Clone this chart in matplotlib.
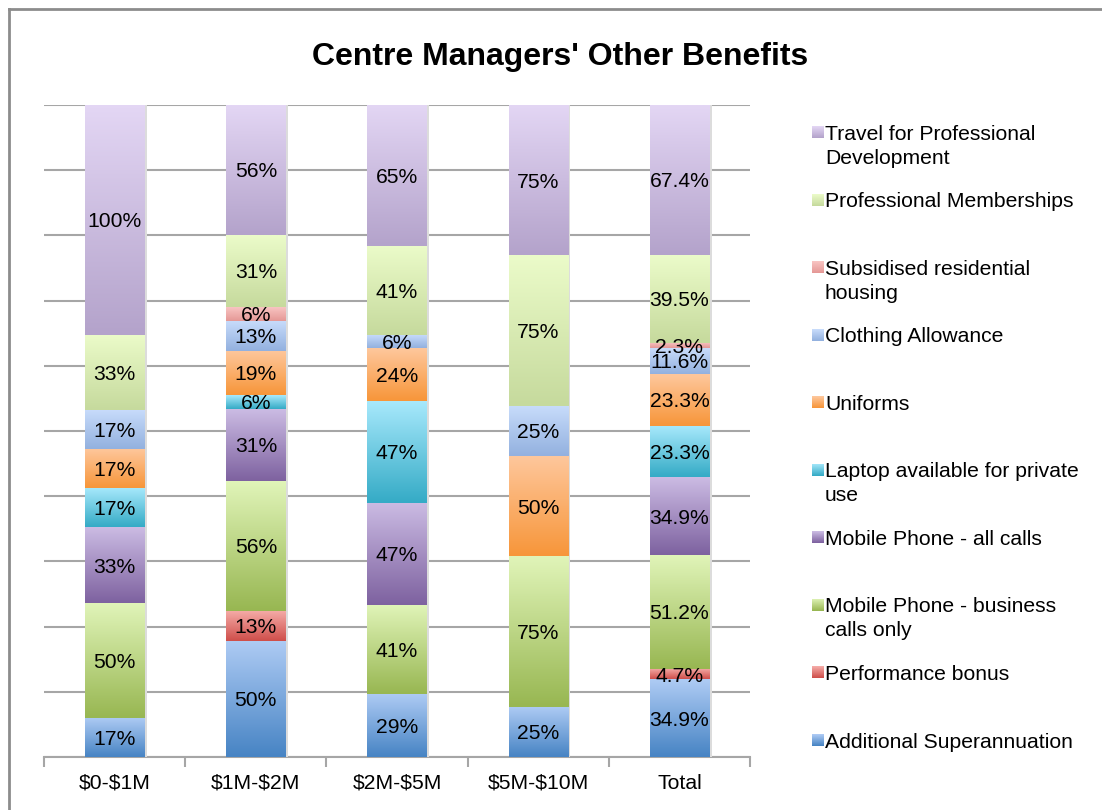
import numpy as np
import matplotlib
matplotlib.use("Agg")
import matplotlib.pyplot as plt
from matplotlib.lines import Line2D
from matplotlib.colors import LinearSegmentedColormap

plt.rcParams['font.family'] = ['Liberation Sans', 'DejaVu Sans']

# ---------------- data ----------------
categories = ["$0-$1M", "$1M-$2M", "$2M-$5M", "$5M-$10M", "Total"]

series_names = [
    "Additional Superannuation",
    "Performance bonus",
    "Mobile Phone - business\ncalls only",
    "Mobile Phone - all calls",
    "Laptop available for private\nuse",
    "Uniforms",
    "Clothing Allowance",
    "Subsidised residential\nhousing",
    "Professional Memberships",
    "Travel for Professional\nDevelopment",
]

additional_super = [17, 50, 29, 25, 34.9]
performance_bonus = [0, 13, 0, 0, 4.7]
mobile_business = [50, 56, 41, 75, 51.2]
mobile_all = [33, 31, 47, 0, 34.9]
laptop = [17, 6, 47, 0, 23.3]
uniforms = [17, 19, 24, 50, 23.3]
clothing = [17, 13, 6, 25, 11.6]
housing = [0, 6, 0, 0, 2.3]
prof_memberships = [33, 31, 41, 75, 39.5]
travel = [100, 56, 65, 75, 67.4]

series_values = [additional_super, performance_bonus, mobile_business, mobile_all,
                 laptop, uniforms, clothing, housing, prof_memberships, travel]

# gradient colours (top, bottom) per series
grad_colors = [
    ("#aecbf4", "#4784c4"),
    ("#f5aca8", "#cf4f4b"),
    ("#e0f4b8", "#98b752"),
    ("#cbbbe3", "#7e62a0"),
    ("#a8e9fc", "#35abc6"),
    ("#fec79c", "#f7963a"),
    ("#c8dcfb", "#93b1df"),
    ("#f8c4c2", "#e59896"),
    ("#ebfbc9", "#c6da9d"),
    ("#e3d6f4", "#b4a3cb"),
]

FS = 15.2

# ---------------- figure ----------------
W, H = 1102, 810
fig = plt.figure(figsize=(W / 100, H / 100), dpi=100)
fig.patch.set_facecolor("white")

ax = fig.add_axes([44 / W, 1 - 757 / H, (750 - 44) / W, (757 - 105) / H])
ax.set_facecolor("white")

vals = np.array(series_values, dtype=float)
totals = vals.sum(axis=0)
pct = vals / totals * 100.0

x = np.arange(len(categories))
bar_w = 0.42
bottom = np.zeros(len(categories))

for i, name in enumerate(series_names):
    top_c, bot_c = grad_colors[i]
    cmap = LinearSegmentedColormap.from_list("g%d" % i, [bot_c, top_c])
    # shadow
    ax.bar(x + 0.018, pct[i], bar_w, bottom=bottom, color="#dcdcdc", zorder=2,
           linewidth=0)
    bars = ax.bar(x, pct[i], bar_w, bottom=bottom, color=top_c, zorder=3,
                  linewidth=0)
    for j, b in enumerate(bars):
        h = pct[i][j]
        if h <= 0:
            continue
        x0 = b.get_x()
        y0 = b.get_y()
        grad = np.linspace(0, 1, 64).reshape(-1, 1)
        ax.imshow(grad, cmap=cmap, origin="lower", aspect="auto",
                  extent=[x0, x0 + b.get_width(), y0, y0 + h], zorder=4,
                  interpolation="bilinear")
        v = series_values[i][j]
        lab = ("%d%%" % v) if float(v).is_integer() else ("%.1f%%" % v)
        ax.text(x[j], y0 + h / 2.0, lab, ha="center", va="center_baseline",
                fontsize=FS, color="black", zorder=6)
    bottom = bottom + pct[i]

ax.set_xlim(-0.5, len(categories) - 0.5)
ax.set_ylim(0, 100)

# grid
ax.set_yticks(np.arange(0, 101, 10))
ax.yaxis.grid(True, color="#a6a6a6", linewidth=1.5, zorder=0)
ax.set_axisbelow(True)
ax.tick_params(axis="y", length=0, labelleft=False)

for s in ["top", "right", "left"]:
    ax.spines[s].set_visible(False)
ax.spines["bottom"].set_color("#a6a6a6")
ax.spines["bottom"].set_linewidth(1.5)
ax.spines["bottom"].set_zorder(1)

ax.set_xticks(x)
ax.set_xticklabels(categories, fontsize=FS)
for t in ax.get_xticklabels():
    t.set_parse_math(False)
ax.tick_params(axis="x", which="major", length=0, pad=12)
ax.set_xticks(np.arange(-0.5, len(categories)), minor=True)
ax.tick_params(axis="x", which="minor", length=7, width=1.5, color="#a6a6a6")

# title
fig.text(560 / W, 1 - 57 / H, "Centre Managers' Other Benefits", ha="center",
         va="center", fontsize=23, fontweight="bold")

# legend (manual)
leg_y0 = 132
leg_step = (740 - 132) / 9.0
for k, i in enumerate(range(len(series_names) - 1, -1, -1)):
    yc = leg_y0 + k * leg_step
    top_c, bot_c = grad_colors[i]
    sq = 12
    fig_ax = fig.add_axes([812 / W, 1 - (yc + sq / 2) / H, sq / W, sq / H])
    fig_ax.imshow(np.linspace(0, 1, 16).reshape(-1, 1),
                  cmap=LinearSegmentedColormap.from_list("l%d" % i, [bot_c, top_c]),
                  origin="lower", aspect="auto", extent=[0, 1, 0, 1])
    fig_ax.set_axis_off()
    lines = series_names[i].split("\n")
    for li, line in enumerate(lines):
        fig.text(825 / W, 1 - (yc + li * 24) / H, line, ha="left",
                 va="center_baseline", fontsize=FS)

# border
fig.add_artist(Line2D([9 / W, 1.0], [1 - 9 / H, 1 - 9 / H], color="#8c8c8c",
                      linewidth=2, transform=fig.transFigure))
fig.add_artist(Line2D([9 / W, 9 / W], [0, 1 - 9 / H], color="#8c8c8c",
                      linewidth=2, transform=fig.transFigure))

fig.savefig("out.png", dpi=100, facecolor="white")
